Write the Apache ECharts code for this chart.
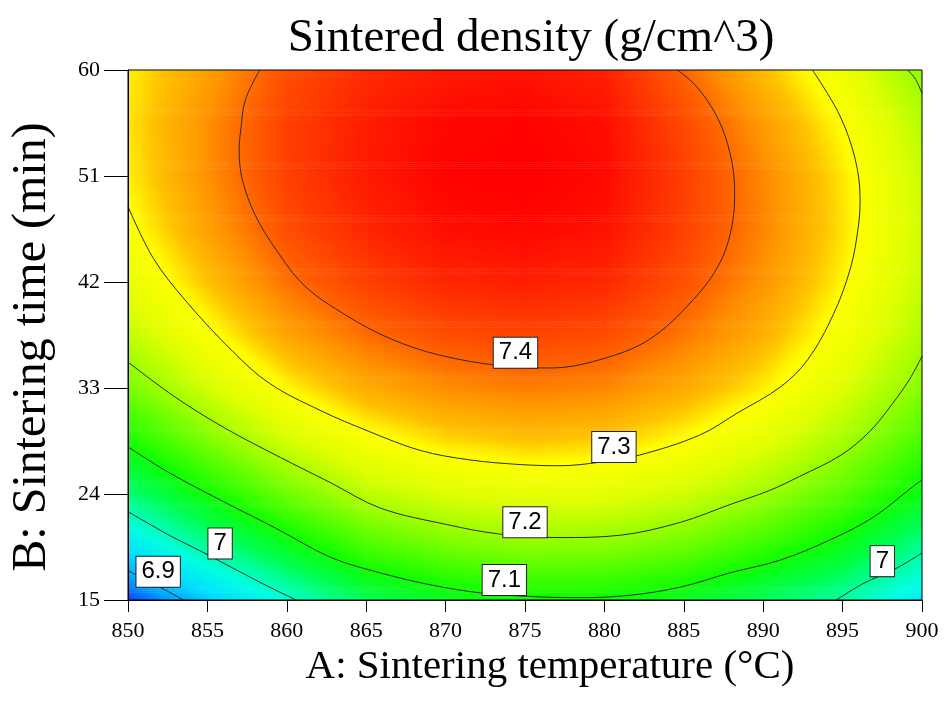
<!DOCTYPE html>
<html>
<head>
<meta charset="utf-8">
<script src="https://cdn.jsdelivr.net/npm/echarts@6/dist/echarts.min.js"></script>
<style>
  html, body { margin: 0; padding: 0; background: #fff; }
  #chart { width: 945px; height: 703px; }
</style>
</head>
<body>
<div id="chart"></div>
<script>
// grid of estimated densities
const temps = [850, 855, 860, 865, 870, 875, 880, 885, 890, 895, 900]
const times = [15, 19.5, 24, 28.5, 33, 37.5, 42, 46.5, 51, 55.5, 60]
// density[i][j] -> temps[i], times[j]
const density = [
  [6.830, 6.933, 7.025, 7.105, 7.171, 7.224, 7.265, 7.292, 7.307, 7.312, 7.306],
  [6.905, 7.008, 7.098, 7.175, 7.240, 7.291, 7.330, 7.356, 7.369, 7.369, 7.356],
  [6.976, 7.077, 7.165, 7.240, 7.303, 7.353, 7.390, 7.415, 7.427, 7.426, 7.413],
  [7.044, 7.138, 7.220, 7.289, 7.347, 7.393, 7.427, 7.449, 7.459, 7.457, 7.443],
  [7.077, 7.168, 7.248, 7.316, 7.372, 7.416, 7.449, 7.469, 7.478, 7.474, 7.459],
  [7.096, 7.185, 7.262, 7.328, 7.382, 7.424, 7.455, 7.474, 7.482, 7.478, 7.463],
  [7.095, 7.182, 7.258, 7.323, 7.376, 7.417, 7.447, 7.466, 7.472, 7.468, 7.452],
  [7.076, 7.162, 7.236, 7.298, 7.348, 7.386, 7.412, 7.426, 7.428, 7.419, 7.397],
  [7.040, 7.125, 7.199, 7.259, 7.308, 7.343, 7.366, 7.377, 7.375, 7.360, 7.333],
  [7.001, 7.081, 7.149, 7.205, 7.250, 7.283, 7.304, 7.314, 7.311, 7.297, 7.272],
  [6.943, 7.010, 7.085, 7.138, 7.180, 7.210, 7.229, 7.236, 7.231, 7.215, 7.187]
]

const timeTicks = [15, 24, 33, 42, 51, 60]

// contour lines [temperature, time]
const contour74 = [[858.3, 60], [857.4, 57.5], [857.1, 54.9], [857.0, 53.2], [857.2, 50.7], [858.0, 47.7], [859.3, 44.8], [861.1, 41.7], [863.7, 39.2], [866.5, 37.2], [869.6, 35.8], [873.4, 34.9], [876.6, 34.7], [879.7, 35.4], [882.8, 37.1], [885.6, 40.5], [887.3, 43.7], [888.1, 47.3], [888.2, 49.8], [887.9, 53.0], [887.1, 56.0], [885.8, 58.6], [884.6, 60]]
const contour73 = [[850, 48.4], [851.6, 44.0], [853.7, 40.3], [856.6, 36.1], [858.9, 33.4], [862.1, 31.1], [865.2, 29.3], [868.4, 27.7], [871.5, 26.9], [874.7, 26.5], [877.2, 26.4], [879.7, 26.7], [882.2, 27.3], [886.0, 29.0], [888.4, 30.9], [891.1, 33.1], [892.8, 35.4], [894.4, 39.2], [895.5, 43.2], [896.0, 46.8], [896.1, 49.0], [895.8, 52.4], [894.8, 56.2], [893.1, 60]]
const contour72 = [[850, 35.2], [853.0, 32.2], [856.1, 29.6], [859.6, 27.1], [862.7, 25.0], [865.9, 22.8], [870.1, 21.4], [873.4, 20.6], [877.2, 20.3], [881.0, 20.5], [884.8, 21.6], [887.9, 23.1], [890.4, 24.3], [892.3, 25.5], [894.9, 27.3], [896.7, 29.3], [898.1, 31.6], [899.2, 33.7], [900, 35.7]]
const contour72b = [[899.1, 60], [899.6, 59.2], [900, 58.0]]
const contour71 = [[850, 28.0], [852.6, 25.8], [855.8, 23.5], [859.3, 21.1], [862.8, 18.6], [865.9, 17.3], [869.0, 16.3], [872.2, 15.6], [875.3, 15.3], [878.5, 15.2], [881.6, 15.4], [884.8, 16.1], [887.9, 17.3], [891.1, 18.4], [894.2, 20.1], [896.9, 22.0], [899.4, 24.6], [900, 25.2]]
const contour70 = [[850, 22.5], [852.6, 20.5], [854.5, 19.2], [856.9, 17.5], [858.9, 16.1], [860.6, 15]]
const contour70b = [[894.6, 15], [896.3, 16.4], [898.4, 17.7], [900, 19.0]]
const contour69 = [[850, 17.5], [852.0, 16.1], [853.5, 15]]

const labelText = ['7.4', '7.3', '7.2', '7.1', '7', '6.9', '7']
const labelTemp = [874.4, 880.6, 875.0, 873.7, 855.8, 851.9, 897.5]
const labelTime = [36.0, 28.0, 21.6, 16.7, 19.8, 17.4, 18.3]

// colour ramp (value -> colour)
const rampStops = [
  [6.83, '#1040ff'], [6.87, '#00a0ff'], [6.92, '#00e0ff'], [6.97, '#00ffe0'],
  [7.00, '#00ffa8'], [7.05, '#00ff48'], [7.10, '#10ff00'], [7.15, '#58ff00'],
  [7.20, '#a0ff00'], [7.25, '#e0ff00'], [7.30, '#ffff00'], [7.33, '#ffc000'],
  [7.37, '#ff9000'], [7.40, '#ff6000'], [7.44, '#ff3000'], [7.48, '#ff0000']
]
const rampRgb = rampStops.map(s => [s[0], parseInt(s[1].slice(1, 3), 16), parseInt(s[1].slice(3, 5), 16), parseInt(s[1].slice(5, 7), 16)])

function colorOf(v) {
  if (v <= rampRgb[0][0]) return 'rgb(' + rampRgb[0].slice(1).join(',') + ')'
  for (let k = 1; k < rampRgb.length; k++) {
    if (v <= rampRgb[k][0]) {
      const a = rampRgb[k - 1], b = rampRgb[k]
      const t = (v - a[0]) / (b[0] - a[0])
      const r = Math.round(a[1] + (b[1] - a[1]) * t)
      const g = Math.round(a[2] + (b[2] - a[2]) * t)
      const bl = Math.round(a[3] + (b[3] - a[3]) * t)
      return 'rgb(' + r + ',' + g + ',' + bl + ')'
    }
  }
  return 'rgb(' + rampRgb[rampRgb.length - 1].slice(1).join(',') + ')'
}

// one item per grid cell: [a0, a1, b0, b1, v00, v10, v01, v11]
const cells = []
for (let i = 0; i < temps.length - 1; i++) {
  for (let j = 0; j < times.length - 1; j++) {
    cells.push([temps[i], temps[i + 1], times[j], times[j + 1],
      density[i][j], density[i + 1][j], density[i][j + 1], density[i + 1][j + 1]])
  }
}

function renderCell(params, api) {
  const a0 = api.value(0), a1 = api.value(1), b0 = api.value(2), b1 = api.value(3)
  const v00 = api.value(4), v10 = api.value(5), v01 = api.value(6), v11 = api.value(7)
  const tl = api.coord([a0, b1])
  const br = api.coord([a1, b0])
  const w = br[0] - tl[0], h = br[1] - tl[1]
  const rows = Math.max(1, Math.round(h / 2))
  const children = []
  for (let r = 0; r < rows; r++) {
    const t = 1 - (r + 0.5) / rows
    const left = v00 * (1 - t) + v01 * t
    const right = v10 * (1 - t) + v11 * t
    const stops = []
    for (let k = 0; k <= 10; k++) {
      const s = k / 10
      stops.push({ offset: s, color: colorOf(left * (1 - s) + right * s) })
    }
    children.push({
      type: 'rect',
      shape: { x: tl[0], y: tl[1] + r * h / rows, width: w + 0.6, height: h / rows + 0.6 },
      style: { fill: new echarts.graphic.LinearGradient(0, 0, 1, 0, stops) },
      silent: true
    })
  }
  return { type: 'group', children }
}

function contourSeries(data) {
  return {
    type: 'line',
    data: data,
    smooth: 0.35,
    showSymbol: false,
    symbol: 'none',
    z: 4,
    silent: true,
    lineStyle: { color: '#2a2a2a', width: 1 }
  }
}

const chart = echarts.init(document.getElementById('chart'), null, { renderer: 'canvas' })

const serif = '"Liberation Serif", "Times New Roman", serif'

const option = {
  animation: false,
  backgroundColor: '#fff',
  title: {
    text: 'Sintered density (g/cm^3)',
    left: 526,
    top: 10,
    textAlign: 'center',
    textStyle: { fontFamily: serif, fontSize: 47, fontWeight: 'normal', color: '#000' }
  },
  grid: {
    left: 128, right: 23, top: 70, bottom: 103,
    show: true, borderColor: '#000', borderWidth: 1, backgroundColor: 'transparent', z: 10
  },
  xAxis: {
    type: 'value',
    min: 850, max: 900, interval: 5,
    z: 10,
    name: 'A: Sintering temperature (°C)',
    nameLocation: 'middle',
    nameGap: 21,
    nameTextStyle: { fontFamily: serif, fontSize: 41, color: '#000', padding: [0, 0, 0, 50] },
    axisLine: { lineStyle: { color: '#000', width: 1 } },
    axisTick: { length: 12, lineStyle: { color: '#000' } },
    axisLabel: { margin: 20, fontFamily: serif, fontSize: 22, color: '#000' },
    splitLine: { show: false }
  },
  yAxis: {
    type: 'value',
    min: 15, max: 60,
    z: 10,
    name: 'B: Sintering time (min)',
    nameLocation: 'middle',
    nameGap: 72,
    nameTextStyle: { fontFamily: serif, fontSize: 48, color: '#000', padding: [0, 24, 0, 0] },
    axisLine: { show: true, lineStyle: { color: '#000', width: 1 } },
    axisTick: { show: true, length: 24, customValues: timeTicks, lineStyle: { color: '#000' } },
    axisLabel: { margin: 28, customValues: timeTicks, fontFamily: serif, fontSize: 22, color: '#000' },
    splitLine: { show: false }
  },
  series: [
    {
      type: 'custom',
      renderItem: renderCell,
      data: cells,
      encode: { x: [0, 1], y: [2, 3] },
      clip: true,
      silent: true,
      z: 1
    },
    contourSeries(contour74),
    contourSeries(contour73),
    contourSeries(contour72),
    contourSeries(contour72b),
    contourSeries(contour71),
    contourSeries(contour70),
    contourSeries(contour70b),
    contourSeries(contour69),
    {
      type: 'scatter',
      z: 6,
      symbolSize: 0,
      silent: true,
      itemStyle: { opacity: 1 },
      data: labelText.map((t, k) => ({ name: t, value: [labelTemp[k], labelTime[k]] })),
      label: {
        show: true,
        position: 'inside',
        formatter: p => p.name,
        fontFamily: '"Liberation Sans", Arial, sans-serif',
        fontSize: 24,
        lineHeight: 26,
        color: '#000',
        backgroundColor: '#fff',
        borderColor: '#222',
        borderWidth: 1,
        padding: [3, 5, 1, 5]
      }
    }
  ]
}

chart.setOption(option)
window.addEventListener('resize', () => chart.resize())
</script>
</body>
</html>
